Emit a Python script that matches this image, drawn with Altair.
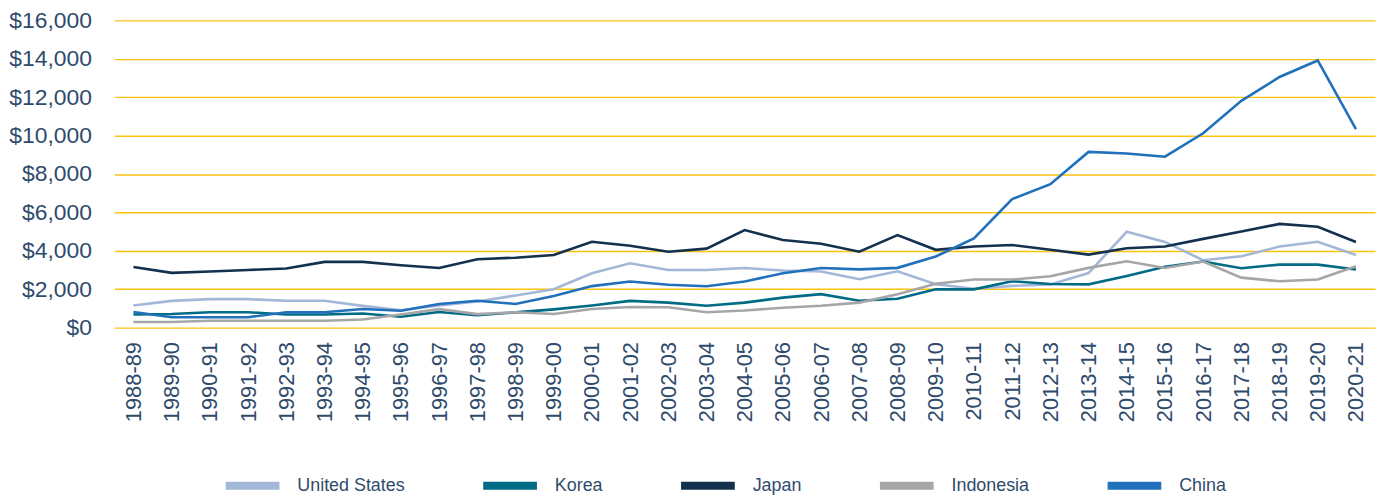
import altair as alt
import pandas as pd

years = ["1988-89", "1989-90", "1990-91", "1991-92", "1992-93", "1993-94", "1994-95",
         "1995-96", "1996-97", "1997-98", "1998-99", "1999-00", "2000-01", "2001-02",
         "2002-03", "2003-04", "2004-05", "2005-06", "2006-07", "2007-08", "2008-09",
         "2009-10", "2010-11", "2011-12", "2012-13", "2013-14", "2014-15", "2015-16",
         "2016-17", "2017-18", "2018-19", "2019-20", "2020-21"]

united_states = [1150, 1390, 1480, 1480, 1400, 1400, 1130, 900, 1150, 1360, 1670, 2000,
                 2830, 3350, 3000, 3000, 3100, 2970, 2920, 2520, 2930, 2260, 2020, 2170,
                 2240, 2840, 4990, 4460, 3510, 3710, 4220, 4470, 3780]
korea = [680, 710, 800, 800, 680, 680, 730, 560, 810, 640, 790, 950, 1150, 1390, 1300,
         1140, 1300, 1560, 1740, 1400, 1500, 1990, 1990, 2410, 2270, 2250, 2690, 3170,
         3440, 3090, 3280, 3280, 3020]
japan = [3160, 2850, 2920, 3000, 3080, 3420, 3420, 3250, 3100, 3560, 3640, 3780, 4470,
         4260, 3950, 4110, 5080, 4560, 4370, 3950, 4820, 4050, 4220, 4300, 4050, 3800,
         4130, 4220, 4620, 5000, 5400, 5250, 4460]
indonesia = [290, 290, 355, 355, 355, 355, 420, 680, 960, 700, 800, 710, 970, 1070, 1060,
             800, 890, 1030, 1140, 1300, 1740, 2280, 2500, 2500, 2670, 3110, 3450, 3100,
             3440, 2600, 2410, 2500, 3190]
china = [810, 540, 540, 540, 800, 800, 970, 880, 1230, 1400, 1230, 1650, 2160, 2400, 2230,
         2150, 2400, 2830, 3100, 3030, 3110, 3700, 4640, 6690, 7470, 9150, 9070, 8900,
         10120, 11810, 13050, 13910, 10340]

countries = ["United States", "Korea", "Japan", "Indonesia", "China"]
colors = ["#A3B7D8", "#006B85", "#13304F", "#A6A6A8", "#2170BB"]
series = [united_states, korea, japan, indonesia, china]

rows = []
for i, (name, vals) in enumerate(zip(countries, series)):
    for y, v in zip(years, vals):
        rows.append({"year": y, "country": name, "value": v, "ord": i})
df = pd.DataFrame(rows)

text_color = "#2F4B6C"
font = "Liberation Sans"

chart = alt.Chart(df).mark_line(strokeWidth=2.6).encode(
    x=alt.X("year:N", sort=years,
            axis=alt.Axis(title=None, labelAngle=270, labelFontSize=22, labelColor=text_color,
                          labelPadding=14, domain=False, ticks=False, grid=False,
                          labelFont=font)),
    y=alt.Y("value:Q", scale=alt.Scale(domain=[0, 16000]),
            axis=alt.Axis(title=None, values=list(range(0, 16001, 2000)), format="$,.0f",
                          labelFontSize=23, labelColor=text_color, labelPadding=23,
                          domain=False, ticks=False, gridColor="#FFC20E", gridWidth=1.4,
                          labelFont=font)),
    color=alt.Color("country:N", sort=countries,
                    scale=alt.Scale(domain=countries, range=colors),
                    legend=alt.Legend(title=None, orient="none", legendX=108, legendY=437,
                                      direction="horizontal", symbolType="M-1,0L1,0",
                                      symbolSize=2916, symbolStrokeWidth=8,
                                      labelFontSize=18, labelColor=text_color,
                                      labelFont=font, labelOffset=14, columnPadding=62)),
    order=alt.Order("ord:Q"),
    detail="country:N",
).properties(
    width=1268, height=309,
    autosize=alt.AutoSizeParams(type="none"),
    padding={"left": 107, "top": 11, "right": 8, "bottom": 174},
).configure(font=font).configure_view(stroke=None)

chart.save("out.html", embed_options={"renderer": "svg", "actions": False})
